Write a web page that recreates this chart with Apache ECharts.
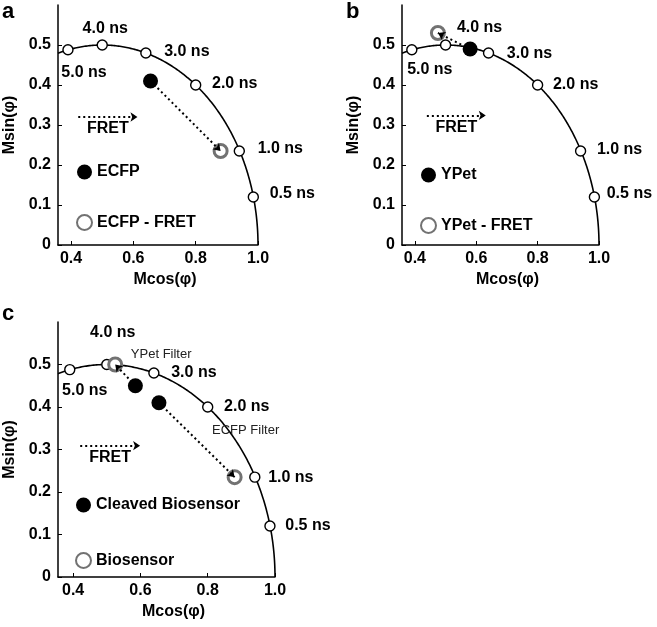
<!DOCTYPE html>
<html>
<head>
<meta charset="utf-8">
<script src="https://cdn.jsdelivr.net/npm/echarts@6/dist/echarts.min.js"></script>
<style>
  html, body { margin: 0; padding: 0; background: #fff; }
  #chart { width: 657px; height: 627px; }
</style>
</head>
<body>
<div id="chart"></div>
<script>
// reference lifetimes on the universal circle (same in every panel)
var lifetimeLabels = ['0.5 ns', '1.0 ns', '2.0 ns', '3.0 ns', '4.0 ns', '5.0 ns'];
var lifetimeG = [0.985, 0.94, 0.80, 0.64, 0.50, 0.39];
var lifetimeS = [0.12, 0.235, 0.40, 0.48, 0.50, 0.488];

var xTicks = [0.4, 0.6, 0.8, 1.0];
var yTicks = [0, 0.1, 0.2, 0.3, 0.4, 0.5];

// panel a
var ecfp = [[0.655, 0.41]];
var ecfpFret = [[0.88, 0.235]];
// panel b
var ypet = [[0.58, 0.49]];
var ypetFret = [[0.475, 0.53]];
// panel c
var cleaved = [[0.585, 0.45], [0.655, 0.41]];
var biosensor = [[0.525, 0.50], [0.88, 0.235]];
var filterLabels = ['YPet Filter', 'ECFP Filter'];

var FONT = 'Arial, "Liberation Sans", sans-serif';
var GRAY = '#727272';

// layout of each panel (pixels) and label offsets
var panels = [
  {
    letter: 'a', grid: { left: 58, top: 5, width: 200, height: 240 }, xMin: 0.358,
    names: ['ECFP', 'ECFP - FRET'], filled: ecfp, ring: ecfpFret,
    legend: { left: 76, top: 164, gap: 34 },
    fret: [[0.423, 0.32], [0.613, 0.32]],
    offsets: [[39, -3], [41, -2], [39, -1], [41, -1], [3, -16], [16, 23]]
  },
  {
    letter: 'b', grid: { left: 402, top: 5, width: 197, height: 240 }, xMin: 0.358,
    names: ['YPet', 'YPet - FRET'], filled: ypet, ring: ypetFret,
    legend: { left: 420, top: 167, gap: 34 },
    fret: [[0.439, 0.324], [0.631, 0.324]],
    offsets: [[35, -3], [39, -1], [38, 0], [41, 1], [34, -17], [18, 20]]
  },
  {
    letter: 'c', grid: { left: 58, top: 322, width: 217, height: 255 }, xMin: 0.355,
    names: ['Cleaved Biosensor', 'Biosensor'], filled: cleaved, ring: biosensor,
    legend: { left: 75, top: 497, gap: 39 },
    fret: [[0.421, 0.309], [0.599, 0.309]],
    offsets: [[38, 0], [36, 0], [39, 0], [40, 0], [6, -32], [15, 21]],
    ringLabels: filterLabels,
    ringOffsets: [[46, -10], [11, -47]]
  }
];

var titles = [], grids = [], xAxes = [], yAxes = [], legends = [], series = [];

panels.forEach(function (p, i) {
  titles.push({
    text: p.letter, left: i === 1 ? 346 : 2, top: i === 2 ? 303 : 1, padding: 0,
    textStyle: { fontFamily: FONT, fontSize: 22, fontWeight: 'bold', color: '#000' }
  });
  grids.push(p.grid);
  xAxes.push({
    gridIndex: i, type: 'value', min: p.xMin, max: 1.0,
    name: 'Mcos(φ)', nameLocation: 'middle', nameGap: 27,
    nameTextStyle: { fontFamily: FONT, fontSize: 16, fontWeight: 'bold', color: '#000', padding: [0, 0, 0, 14] },
    axisLine: { lineStyle: { color: '#000', width: 1.5 } },
    axisTick: { inside: true, length: 4, customValues: xTicks, lineStyle: { color: '#000' } },
    axisLabel: {
      customValues: xTicks, margin: 6, color: '#000',
      fontFamily: FONT, fontSize: 16, fontWeight: 'bold',
      formatter: function (v) { return v.toFixed(1); }
    },
    splitLine: { show: false }
  });
  yAxes.push({
    gridIndex: i, type: 'value', min: 0, max: 0.6,
    name: 'Msin(φ)', nameLocation: 'middle', nameGap: 40,
    nameTextStyle: { fontFamily: FONT, fontSize: 16, fontWeight: 'bold', color: '#000' },
    axisLine: { show: true, lineStyle: { color: '#000', width: 1.5 } },
    axisTick: { show: true, inside: true, length: 4, customValues: yTicks, lineStyle: { color: '#000' } },
    axisLabel: {
      customValues: yTicks, margin: 7, color: '#000',
      fontFamily: FONT, fontSize: 16, fontWeight: 'bold',
      formatter: function (v) { return v === 0 ? '0' : v.toFixed(1); }
    },
    splitLine: { show: false }
  });
  legends.push({
    data: p.names, orient: 'vertical', left: p.legend.left, top: p.legend.top,
    itemGap: p.legend.gap, itemWidth: 15, itemHeight: 15, padding: 0,
    selectedMode: false,
    textStyle: { fontFamily: FONT, fontSize: 16, fontWeight: 'bold', color: '#000' }
  });

  // universal semicircle
  var xMin = p.xMin;
  series.push({
    type: 'custom', xAxisIndex: i, yAxisIndex: i, silent: true, z: 2,
    data: [[0.5, 0]],
    renderItem: function (params, api) {
      var pts = [];
      for (var k = 0; k <= 360; k++) {
        var t = Math.PI * k / 360;
        var gx = 0.5 + 0.5 * Math.cos(t);
        if (gx < xMin) {
          pts.push(api.coord([xMin, Math.sqrt(0.25 - (xMin - 0.5) * (xMin - 0.5))]));
          break;
        }
        pts.push(api.coord([gx, 0.5 * Math.sin(t)]));
      }
      return {
        type: 'polyline', shape: { points: pts },
        style: { stroke: '#000', lineWidth: 1.6, fill: null }
      };
    }
  });

  // reference lifetime points
  series.push({
    type: 'scatter', xAxisIndex: i, yAxisIndex: i, silent: true, z: 3,
    symbol: 'circle', symbolSize: 10,
    itemStyle: { color: '#fff', borderColor: '#000', borderWidth: 1.4, opacity: 1 },
    data: lifetimeG.map(function (g, k) {
      return {
        value: [g, lifetimeS[k]],
        label: {
          show: true, position: 'inside', offset: p.offsets[k],
          formatter: lifetimeLabels[k], color: '#000',
          fontFamily: FONT, fontSize: 16, fontWeight: 'bold'
        }
      };
    })
  });

  // measured phasors
  series.push({
    name: p.names[1], type: 'scatter', xAxisIndex: i, yAxisIndex: i, silent: true, z: 4,
    symbol: 'circle', symbolSize: 13,
    itemStyle: { color: '#fff', borderColor: GRAY, borderWidth: 3, opacity: 1 },
    data: p.ring.map(function (d, k) {
      var item = { value: d };
      if (p.ringLabels) {
        item.label = {
          show: true, position: 'inside', offset: p.ringOffsets[k],
          formatter: p.ringLabels[k], color: '#222',
          fontFamily: FONT, fontSize: 13
        };
      }
      return item;
    })
  });
  series.push({
    name: p.names[0], type: 'scatter', xAxisIndex: i, yAxisIndex: i, silent: true, z: 4,
    symbol: 'circle', symbolSize: 15,
    itemStyle: { color: '#000', opacity: 1 },
    data: p.filled
  });

  // dotted arrows: FRET key and shift from filled to ring
  var arrows = [[
    { coord: p.fret[0] },
    { coord: p.fret[1], label: {
        show: true, position: 'insideMiddleBottom', formatter: 'FRET', distance: 4,
        color: '#000', fontFamily: FONT, fontSize: 16, fontWeight: 'bold'
      } }
  ]];
  p.filled.forEach(function (d, k) {
    arrows.push([{ coord: d }, { coord: p.ring[k] }]);
  });
  series.push({
    type: 'line', xAxisIndex: i, yAxisIndex: i, silent: true, z: 6, data: [],
    markLine: {
      silent: true, animation: false,
      symbol: ['none', 'arrow'], symbolSize: 7,
      lineStyle: { color: '#000', type: [2, 3], width: 2 },
      label: { show: false },
      data: arrows
    }
  });
});

var chart = echarts.init(document.getElementById('chart'));
chart.setOption({
  animation: false,
  backgroundColor: '#fff',
  title: titles,
  grid: grids,
  xAxis: xAxes,
  yAxis: yAxes,
  legend: legends,
  series: series
});
</script>
</body>
</html>
